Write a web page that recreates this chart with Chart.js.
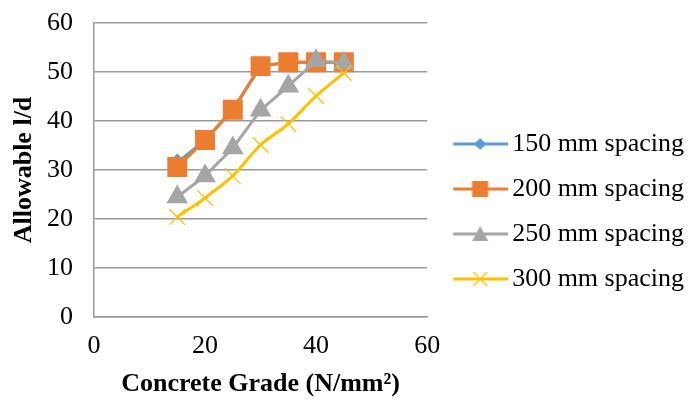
<!DOCTYPE html>
<html lang="en">
<head>
  <meta charset="UTF-8">
  <title>Allowable l/d vs Concrete Grade</title>
  <script src="https://cdn.jsdelivr.net/npm/chart.js"></script>
  <style>
    html, body { margin: 0; padding: 0; background: #fff; }
    #chart-container { width: 690px; height: 400px; position: relative; }
  </style>
</head>
<body>
  <div id="chart-container">
    <canvas id="ldChart"></canvas>
  </div>

  <script>
    // data
    const grades = [15, 20, 25, 30, 35, 40, 45];
    const spacing150 = [31.5, 36.1, 42.3, 51.2, 52, 52, 52];
    const spacing200 = [30.6, 36.1, 42.3, 51.2, 52, 52, 52];
    const spacing250 = [24.5, 28.8, 34.5, 42.2, 47.1, 52.3, 51.8];
    const spacing300 = [20.4, 24.3, 28.8, 35.1, 39.4, 45.1, 49.8];
    const seriesNames = ['150 mm spacing', '200 mm spacing', '250 mm spacing', '300 mm spacing'];
    const xTicks = [0, 20, 40, 60];
    const yTicks = [0, 10, 20, 30, 40, 50, 60];

    const serif = "'Liberation Serif', 'Times New Roman', serif";
    const colors = ['#5b9bd5', '#ed7d31', '#a5a5a5', '#ffc000'];

    function toPoints(vals) {
      return grades.map((g, i) => ({ x: g, y: vals[i] }));
    }

    // line + marker image for each legend entry (blank strip on the left = gap to plot)
    function legendIcon(color, shape) {
      const c = document.createElement('canvas');
      c.width = 70; c.height = 22;
      const g = c.getContext('2d');
      const mx = 42.5, my = 11;
      g.strokeStyle = color;
      g.lineWidth = 3;
      g.beginPath(); g.moveTo(15.5, my); g.lineTo(70, my); g.stroke();
      g.fillStyle = color;
      g.beginPath();
      if (shape === 'diamond') {
        g.moveTo(mx, my - 6); g.lineTo(mx + 6, my); g.lineTo(mx, my + 6); g.lineTo(mx - 6, my);
        g.closePath(); g.fill();
      } else if (shape === 'square') {
        g.fillRect(mx - 8, my - 8, 16, 16);
      } else if (shape === 'triangle') {
        g.moveTo(mx, my - 8); g.lineTo(mx + 8, my + 7); g.lineTo(mx - 8, my + 7);
        g.closePath(); g.fill();
      } else {
        g.lineWidth = 1.2;
        g.moveTo(mx - 7, my - 7); g.lineTo(mx + 7, my + 7);
        g.moveTo(mx + 7, my - 7); g.lineTo(mx - 7, my + 7);
        g.stroke();
      }
      return c;
    }

    const icons = [
      legendIcon(colors[0], 'diamond'),
      legendIcon(colors[1], 'square'),
      legendIcon(colors[2], 'triangle'),
      legendIcon(colors[3], 'cross')
    ];

    const ctx = document.getElementById('ldChart').getContext('2d');
    const ldChart = new Chart(ctx, {
      type: 'line',
      data: {
        datasets: [
          {
            label: seriesNames[0],
            data: toPoints(spacing150),
            borderColor: colors[0],
            backgroundColor: colors[0],
            borderWidth: 3,
            pointStyle: 'rectRot',
            pointRadius: 7,
            tension: 0,
            order: 4
          },
          {
            label: seriesNames[1],
            data: toPoints(spacing200),
            borderColor: colors[1],
            backgroundColor: colors[1],
            borderWidth: 3,
            pointStyle: 'rect',
            pointRadius: 12,
            tension: 0,
            order: 3
          },
          {
            label: seriesNames[2],
            data: toPoints(spacing250),
            borderColor: colors[2],
            backgroundColor: colors[2],
            borderWidth: 3,
            pointStyle: 'triangle',
            pointRadius: 9.5,
            tension: 0,
            order: 2
          },
          {
            label: seriesNames[3],
            data: toPoints(spacing300),
            borderColor: colors[3],
            backgroundColor: colors[3],
            borderWidth: 3,
            pointStyle: 'crossRot',
            pointRadius: 11,
            pointBorderWidth: 1.2,
            tension: 0.3,
            order: 1
          }
        ]
      },
      options: {
        responsive: true,
        maintainAspectRatio: false,
        animation: false,
        layout: { padding: { top: 23, right: -4, bottom: 0, left: 0 } },
        plugins: {
          legend: {
            display: true,
            position: 'right',
            align: 'center',
            maxWidth: 300,
            labels: {
              usePointStyle: true,
              pointStyleWidth: 53,
              padding: 19,
              color: '#000',
              font: { family: serif, size: 26 },
              generateLabels: chart => {
                const items = Chart.defaults.plugins.legend.labels.generateLabels(chart);
                items.forEach(it => { it.pointStyle = icons[it.datasetIndex]; it.rotation = 0; });
                return items;
              },
              sort: (a, b) => a.datasetIndex - b.datasetIndex
            }
          },
          tooltip: { enabled: false }
        },
        scales: {
          x: {
            type: 'linear',
            min: 0,
            max: 60,
            afterBuildTicks: axis => { axis.ticks = xTicks.map(v => ({ value: v })); },
            afterFit: axis => { axis.height = 83; },
            grid: { display: false, drawTicks: false },
            border: { color: '#9a9a9a', width: 1.5 },
            ticks: { color: '#000', padding: 14, font: { family: serif, size: 26 } },
            title: {
              display: true,
              text: 'Concrete Grade (N/mm²)',
              color: '#000',
              padding: { top: 0, bottom: 0 },
              font: { family: serif, size: 26, weight: 'bold' }
            }
          },
          y: {
            min: 0,
            max: 60,
            afterBuildTicks: axis => { axis.ticks = yTicks.map(v => ({ value: v })); },
            afterFit: axis => { axis.width = 94; axis.paddingTop = 0; axis.paddingBottom = 0; },
            grid: { color: '#9a9a9a', lineWidth: 1.5, drawTicks: false },
            border: { color: '#9a9a9a', width: 1.5 },
            ticks: { color: '#000', padding: 21, font: { family: serif, size: 26 } },
            title: {
              display: true,
              text: 'Allowable l/d',
              color: '#000',
              padding: { top: 9, bottom: 0 },
              font: { family: serif, size: 26, weight: 'bold' }
            }
          }
        }
      }
    });
  </script>
</body>
</html>
